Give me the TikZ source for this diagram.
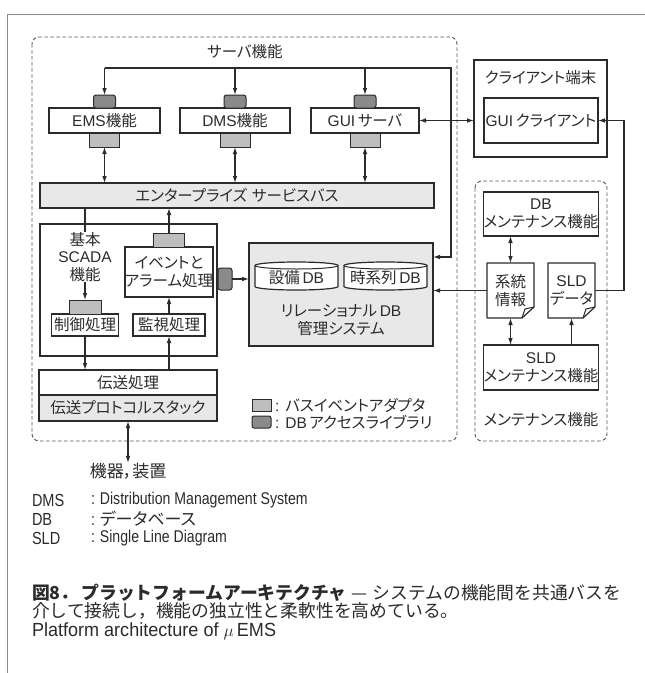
\documentclass[tikz,border=0pt]{standalone}
\usepackage{fontspec}
\setmainfont[RawFeature=+palt]{Noto Sans CJK JP}
\newfontfamily\capjp{Noto Sans CJK JP}
\newfontfamily\latn{Liberation Sans}
\newfontfamily\latnc[FakeStretch=0.83]{Liberation Sans}
\newfontfamily\latnp[FakeStretch=0.95]{Liberation Sans}
\usetikzlibrary{arrows.meta,calc}
\definecolor{ink}{HTML}{2B2B2B}
\definecolor{lightad}{HTML}{BEBEBE}
\definecolor{darkad}{HTML}{8A8A8A}
\definecolor{panelc}{HTML}{E8E8E8}
\definecolor{dashc}{HTML}{555555}
\definecolor{framec}{HTML}{8C8C8C}
\begin{document}
\begin{tikzpicture}[x=1pt,y=-1pt,
 every node/.style={inner sep=0pt,outer sep=0pt,text=ink,align=center,font=\fontsize{15.5}{17.5}\selectfont},
 box/.style={draw=ink,line width=1.2pt,fill=white},
 panelbox/.style={draw=ink,line width=1.2pt,fill=panelc},
 ladapt/.style={draw=ink,line width=1pt,fill=lightad,minimum width=30pt,minimum height=14pt},
 dadapt/.style={draw=ink,line width=1pt,fill=darkad,rounded corners=2.5pt,minimum width=22pt,minimum height=13pt},
 conn/.style={draw=ink,line width=1.1pt},
 arr/.style={conn,-{Latex[length=7pt,width=4.6pt]}},
 darr/.style={conn,{Latex[length=7pt,width=4.6pt]}-{Latex[length=7pt,width=4.6pt]}},
 group/.style={draw=dashc,line width=0.9pt,dash pattern=on 3.5pt off 2.5pt,rounded corners=7pt},
 docline/.style={draw=ink,line width=1.2pt,line join=round},
 smallfont/.style={font=\fontsize{17}{19}\selectfont}
]
\useasboundingbox (0,0) rectangle (645,673);
\fill[white] (0,0) rectangle (645,673);
\draw[framec,line width=1pt] (7,673) -- (7,14) -- (645,14);

% groups
\draw[group] (32,37) rectangle (457,441);
\draw[group] (475,181) rectangle (607,441);
\node (srvlbl) at (245,52) {サーバ機能};
\node (mntlbl) at (541,420) {メンテナンス機能};

% server functions
\node[box,minimum width=111pt,minimum height=25pt] (ems) at (104.5,120.5) {{\latn EMS}機能};
\node[box,minimum width=110pt,minimum height=25pt] (dms) at (235,120.5) {{\latn DMS}機能};
\node[box,minimum width=108pt,minimum height=25pt] (gui) at (365,120.5) {{\latn GUI}\,サーバ};
\node[dadapt] (dems) at (104.5,101.5) {};
\node[dadapt] (ddms) at (235,101.5) {};
\node[dadapt] (dgui) at (365,101.5) {};
\node[ladapt] (lems) at (104.5,140) {};
\node[ladapt] (ldms) at (235,140) {};
\node[ladapt] (lgui) at (365,140) {};

\node[panelbox,minimum width=394pt,minimum height=25pt] (esb) at (237,195.5) {エンタープライズ\hspace{5pt}サービスバス};

% client
\node[box,line width=1.5pt,minimum width=133pt,minimum height=97pt] (client) at (540.5,108.5) {};
\node (clbl) at (540.5,78) {クライアント端末};
\node[box,minimum width=114pt,minimum height=45pt] (guic) at (541,120.5) {{\latn GUI}\,クライアント};

% maintenance
\node[box,minimum width=108pt,minimum height=44pt] (dbm) at (541,214) {{\latn DB}\\メンテナンス機能};
\node[minimum width=47pt,minimum height=55pt] (kei) at (510.5,290.5) {系統\\情報};
\node[minimum width=47pt,minimum height=55pt] (sldd) at (571.5,290.5) {{\latn SLD}\\データ};
\foreach \d in {kei,sldd}{
  \draw[docline] (\d.north west) -- (\d.north east) -- ($(\d.south east)+(0,-11)$) -- ($(\d.south east)+(-12,0)$) -- (\d.south west) -- cycle;
  \draw[docline,line width=1pt] ($(\d.south east)+(-12,0)$) -- ($(\d.south east)+(-9,-9)$) -- ($(\d.south east)+(0,-11)$);
}
\node[box,minimum width=108pt,minimum height=45pt] (sldm) at (541,367.5) {{\latn SLD}\\メンテナンス機能};

% relational DB
\node[panelbox,minimum width=184pt,minimum height=103pt] (rdb) at (341,294.5) {};
\foreach \cx in {296.5,385.5}{
  \draw[box] (\cx-41.5,265.5) -- (\cx-41.5,286.5) arc[start angle=180,end angle=360,x radius=41.5pt,y radius=3.5pt] -- (\cx+41.5,265.5) arc[start angle=0,end angle=180,x radius=41.5pt,y radius=3.5pt] -- cycle;
  \draw[conn,line width=1pt] (\cx-41.5,265.5) arc[start angle=180,end angle=360,x radius=41.5pt,y radius=3.5pt];
}
\node (cylA) at (296.5,278) {設備\,{\latn DB}};
\node (cylB) at (385.5,278) {時系列\,{\latn DB}};
\node (rdblbl) at (341,320) {リレーショナル\,{\latn DB}\\管理システム};

% SCADA
\node[box,minimum width=177pt,minimum height=132pt] (scada) at (128.5,290) {};
\node (kihon) at (85,257) {基本\\{\latn SCADA}\\機能};
\node[box,line width=2pt,minimum width=86pt,minimum height=50pt] (ev) at (169,272) {イベントと\\アラーム処理};
\node[ladapt,minimum width=31pt] (lev) at (169,240) {};
\node[box,minimum width=67pt,minimum height=22pt] (ctl) at (85,325) {制御処理};
\node[ladapt,minimum width=32pt] (lctl) at (85,307) {};
\node[box,minimum width=72pt,minimum height=22pt] (mon) at (169,325) {監視処理};
\node[dadapt,minimum width=14pt,minimum height=22pt] (ddb) at (225,279) {};

% transport
\node[box,minimum width=178pt,minimum height=25pt] (tx) at (128,382.5) {伝送処理};
\node[panelbox,minimum width=178pt,minimum height=26pt] (txp) at (128,408) {伝送プロトコルスタック};
\node[smallfont] (kiki) at (128,471) {機器，装置};

% in-figure legend
\node[ladapt,minimum width=19pt,minimum height=12pt] (sw1) at (261.5,405.5) {};
\node[dadapt,minimum width=19pt,minimum height=12pt,rounded corners=2pt] (sw2) at (261.5,422) {};
\node[anchor=west] (sw1t) at (275,405.5) {{\latn :}\hspace{6pt}バスイベントアダプタ};
\node[anchor=west] (sw2t) at (275,422) {{\latn :}\hspace{6pt}{\latn DB}\,アクセスライブラリ};

% abbreviations
\node[anchor=west,font=\latnc\fontsize{17.5}{19}\selectfont] (a1) at (32,500) {DMS};
\node[anchor=west,font=\latnc\fontsize{17.5}{19}\selectfont] (a2) at (32,519) {DB};
\node[anchor=west,font=\latnc\fontsize{17.5}{19}\selectfont] (a3) at (32,538) {SLD};
\node[anchor=west,smallfont] (b1) at (91,500) {{\latnc :\hspace{5pt}Distribution Management System}};
\node[anchor=west,smallfont] (b2) at (91,519) {{\latnc :}\hspace{5pt}データベース};
\node[anchor=west,smallfont] (b3) at (91,538) {{\latnc :\hspace{5pt}Single Line Diagram}};

% caption
\node[anchor=west,font=\capjp\fontsize{17.8}{20}\selectfont] (cap1) at (32,593) {{\bfseries 図8．\hspace{3pt}プラットフォームアーキテクチャ}\hspace{5pt}—\hspace{5pt}システムの機能間を共通バスを};
\node[anchor=west,font=\capjp\fontsize{17.8}{20}\selectfont] (cap2) at (32,611) {介して接続し，機能の独立性と柔軟性を高めている。};
\node[anchor=west,font=\latnp\fontsize{19}{21}\selectfont] (cap3) at (32,631) {Platform architecture of $\mu$\,EMS};

% connectors
\coordinate (busL) at (104.5,68);
\coordinate (busR) at (451,68);
\coordinate (busD) at (451,257);
\draw[arr] (busL) -- (busR) -- (busD) -- (rdb.east |- busD);
\draw[arr] (busL) -- (dems.north);
\draw[arr] (ddms.north |- busL) -- (ddms.north);
\draw[arr] (dgui.north |- busL) -- (dgui.north);
\draw[darr] (lems.south) -- (esb.north -| lems.south);
\draw[darr] (ldms.south) -- (esb.north -| ldms.south);
\draw[darr] (lgui.south) -- (esb.north -| lgui.south);
\draw[darr] (gui.east) -- (client.west |- gui.east);
\coordinate (rt1) at (624,290.5);
\coordinate (rt2) at (624,120.5);
\draw[arr] (sldd.east) -- (rt1) -- (rt2) -- (guic.east);
\draw[darr] (dbm.south -| kei.north) -- (kei.north);
\draw[darr] (kei.south) -- (sldm.north -| kei.south);
\draw[arr] (sldm.north -| sldd.south) -- (sldd.south);
\draw[arr] (kei.west) -- (rdb.east |- kei.west);
\draw[conn] (esb.south -| kihon.north) -- (kihon.north);
\draw[arr] (kihon.south) -- (lctl.north);
\draw[arr] (lev.north) -- (esb.south -| lev.north);
\draw[arr] (mon.north) -- (ev.south);
\draw[arr] (ctl.south) -- (tx.north -| ctl.south);
\draw[arr] (tx.north -| mon.south) -- (mon.south);
\draw[arr] (ddb.east) -- (rdb.west |- ddb.east);
\draw[darr] (txp.south) -- (kiki.north);
\end{tikzpicture}
\end{document}
